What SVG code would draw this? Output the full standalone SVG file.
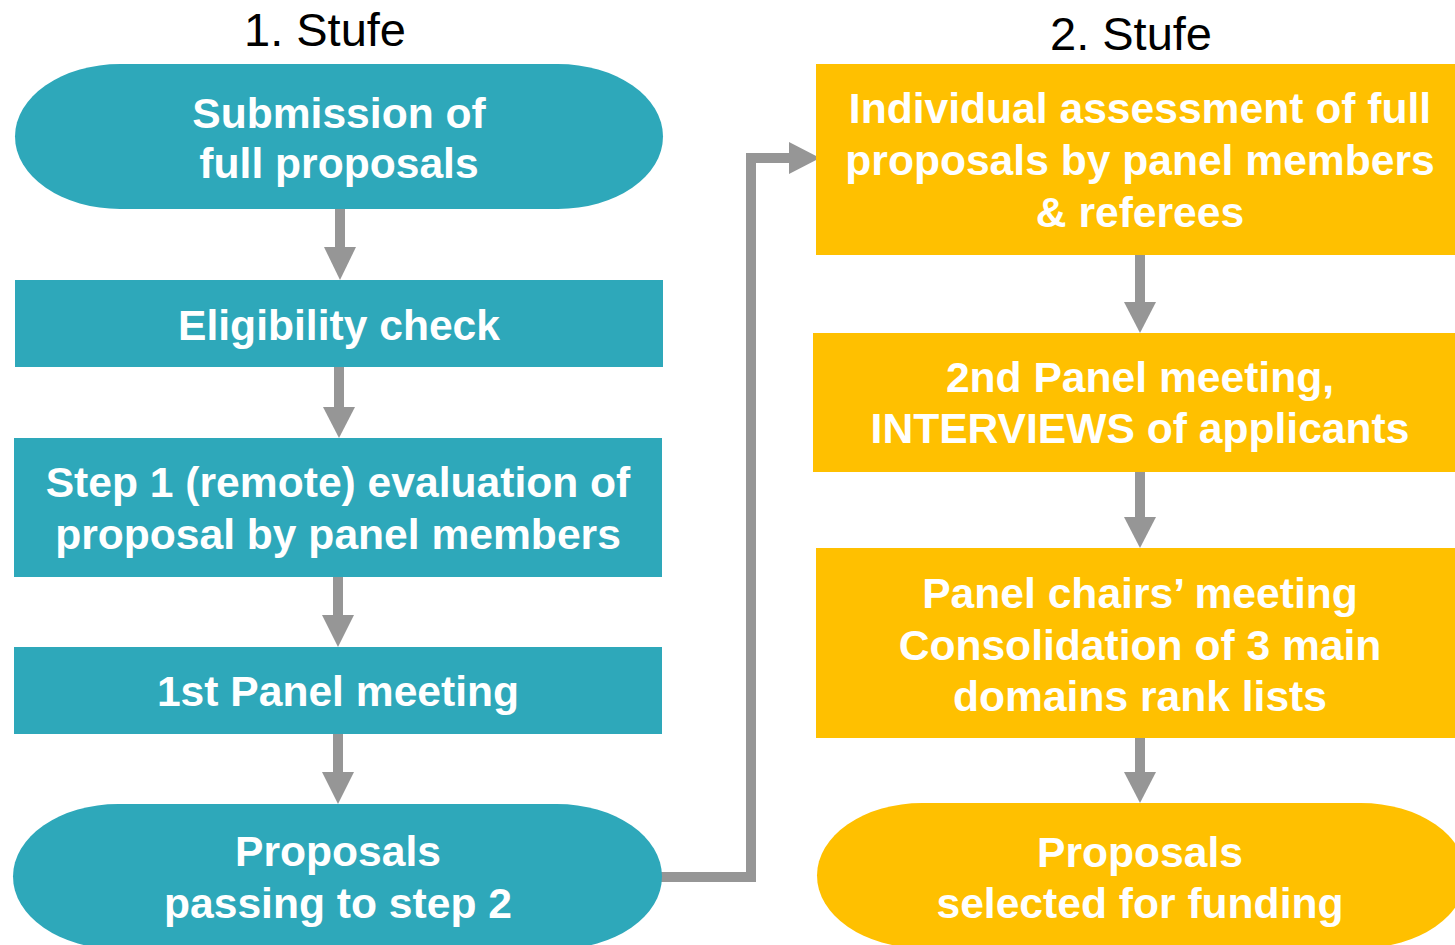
<svg xmlns="http://www.w3.org/2000/svg" width="1455" height="945" viewBox="0 0 1455 945">
<style>
.t{fill:#2EA8BA}
.y{fill:#FFC000}
.lbl{font-family:"Liberation Sans",Arial,sans-serif;font-weight:bold;font-size:42.6px;fill:#fff;text-anchor:middle}
.ttl{font-family:"Liberation Sans",Arial,sans-serif;font-size:47px;fill:#000;text-anchor:middle}
.sh{stroke:#969696;stroke-width:10;fill:none}
.hd{fill:#969696}
</style>
<rect width="1455" height="945" fill="#fff"/>
<text class="ttl" x="325" y="46">1. Stufe</text>
<text class="ttl" x="1131" y="50">2. Stufe</text>
<g id="connectors">
<line class="sh" x1="340" y1="209" x2="340" y2="250"/><polygon class="hd" points="324,247 356,247 340,280"/>
<line class="sh" x1="339" y1="364" x2="339" y2="410"/><polygon class="hd" points="323,407 355,407 339,438"/>
<line class="sh" x1="338" y1="577" x2="338" y2="618"/><polygon class="hd" points="322,615 354,615 338,647"/>
<line class="sh" x1="338" y1="734" x2="338" y2="775"/><polygon class="hd" points="322,772 354,772 338,804"/>
<polyline class="sh" points="660,877 751,877 751,158 792,158"/><polygon class="hd" points="789,142 820,158 789,174"/>
<line class="sh" x1="1140" y1="255" x2="1140" y2="305"/><polygon class="hd" points="1124,302 1156,302 1140,333"/>
<line class="sh" x1="1140" y1="472" x2="1140" y2="520"/><polygon class="hd" points="1124,517 1156,517 1140,548"/>
<line class="sh" x1="1140" y1="738" x2="1140" y2="775"/><polygon class="hd" points="1124,772 1156,772 1140,803"/>
</g>
<g id="n1"><rect class="t" x="15" y="64" width="648" height="145" rx="105" ry="72.5"/>
<text class="lbl" x="339" y="128">Submission of</text><text class="lbl" x="339" y="178">full proposals</text></g>
<g id="n2"><rect class="t" x="15" y="280" width="648" height="87"/>
<text class="lbl" x="339" y="340">Eligibility check</text></g>
<g id="n3"><rect class="t" x="14" y="438" width="648" height="139"/>
<text class="lbl" x="338" y="497">Step 1 (remote) evaluation of</text><text class="lbl" x="338" y="549">proposal by panel members</text></g>
<g id="n4"><rect class="t" x="14" y="647" width="648" height="87"/>
<text class="lbl" x="338" y="706">1st Panel meeting</text></g>
<g id="n5"><rect class="t" x="13" y="804" width="649" height="145" rx="105" ry="72.5"/>
<text class="lbl" x="338" y="866">Proposals</text><text class="lbl" x="338" y="918">passing to step 2</text></g>
<g id="n6"><rect class="y" x="816" y="64" width="648" height="191"/>
<text class="lbl" x="1140" y="123">Individual assessment of full</text><text class="lbl" x="1140" y="175">proposals by panel members</text><text class="lbl" x="1140" y="227">&amp; referees</text></g>
<g id="n7"><rect class="y" x="813" y="333" width="651" height="139"/>
<text class="lbl" x="1140" y="392">2nd Panel meeting,</text><text class="lbl" x="1140" y="443">INTERVIEWS of applicants</text></g>
<g id="n8"><rect class="y" x="816" y="548" width="648" height="190"/>
<text class="lbl" x="1140" y="608">Panel chairs’ meeting</text><text class="lbl" x="1140" y="660">Consolidation of 3 main</text><text class="lbl" x="1140" y="711">domains rank lists</text></g>
<g id="n9"><rect class="y" x="817" y="803" width="649" height="145" rx="105" ry="72.5"/>
<text class="lbl" x="1140" y="867">Proposals</text><text class="lbl" x="1140" y="918">selected for funding</text></g>
</svg>
